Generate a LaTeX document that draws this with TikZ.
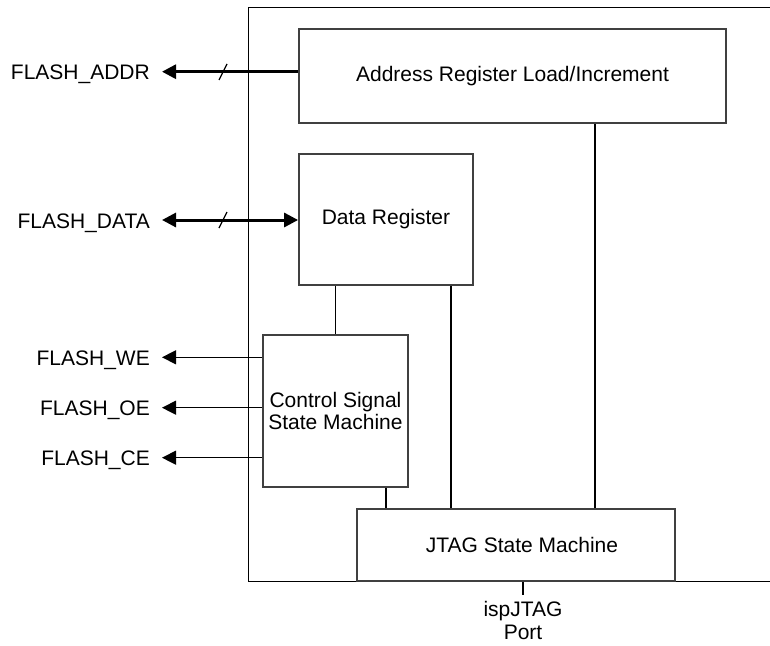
\documentclass[tikz,border=0pt]{standalone}
\usepackage{fontspec}
\setmainfont{Liberation Sans}
\usetikzlibrary{arrows.meta}
\begin{document}
\begin{tikzpicture}[x=1pt,y=-1pt,
  font=\fontsize{21}{22.7}\selectfont,
  block/.style={draw=black!75, line width=1.8pt, inner sep=0pt, align=center},
  frame/.style={line width=1pt},
  wire/.style={line width=1.2pt},
  bus/.style={line width=3pt},
  tipL/.style={-{Triangle[length=14pt,width=14pt]}},
  tipLR/.style={{Triangle[length=14pt,width=14pt]}-{Triangle[length=14pt,width=14pt]}},
  sig/.style={anchor=base east, inner sep=0pt}]
\useasboundingbox (0,0) rectangle (770,645);

% device outline (continues past the right edge)
\draw[frame] (775,7) -- (248,7) -- (248,581) -- (775,581);

% functional blocks
\node[block, minimum width=427pt, minimum height=94pt] (addr) at (512.5,76) {Address Register Load/Increment};
\node[block, minimum width=174pt, minimum height=131pt] (data) at (386,219.5) {Data Register};
\node[block, minimum width=145pt, minimum height=152pt] (ctl) at (335.5,411) {Control Signal\\State Machine};
\node[block, minimum width=318pt, minimum height=72pt] (jtag) at (516,545) {\hspace*{12pt}JTAG State Machine};

% external signal names
\node[sig] (lAddr) at (150,79.7) {FLASH\_ADDR};
\node[sig] (lData) at (150,228) {FLASH\_DATA};
\node[sig] (lWe) at (150,365.3) {FLASH\_WE};
\node[sig] (lOe) at (150,415.7) {FLASH\_OE};
\node[sig] (lCe) at (150,465.7) {FLASH\_CE};

% arrow tips next to the names
\coordinate (aTip) at (162,71.7);
\coordinate (dTip) at (162,220);
\coordinate (weTip) at (162,357.3);
\coordinate (oeTip) at (162,407.7);
\coordinate (ceTip) at (162,457.7);

% buses
\draw[bus, tipL] (addr.west |- aTip) -- (aTip);
\draw[bus, tipLR] (dTip) -- (data.west |- dTip);
% bus width marks
\coordinate (aMark) at (223,72);
\coordinate (dMark) at (223,220);
\draw[wire] (aMark) ++(-4,8) -- ++(8,-16);
\draw[wire] (dMark) ++(-4,8) -- ++(8,-16);

% control outputs
\draw[wire, tipL] (ctl.west |- weTip) -- (weTip);
\draw[wire, tipL] (ctl.west |- oeTip) -- (oeTip);
\draw[wire, tipL] (ctl.west |- ceTip) -- (ceTip);

% internal connections
\draw[wire] (ctl.north) -- (ctl.north |- data.south);
\coordinate (c1) at (451,0);
\coordinate (c2) at (386,0);
\coordinate (c3) at (595,0);
\draw[wire] (data.south -| c1) -- (jtag.north -| c1);
\draw[wire] (ctl.south -| c2) -- (jtag.north -| c2);
\draw[wire] (addr.south -| c3) -- (jtag.north -| c3);

% JTAG port
\node[anchor=north, inner sep=0pt, align=center] (port) at (523,601) {ispJTAG\\Port};
\draw[wire] (port.north |- jtag.south) -- ([yshift=6pt]port.north);
\end{tikzpicture}
\end{document}
